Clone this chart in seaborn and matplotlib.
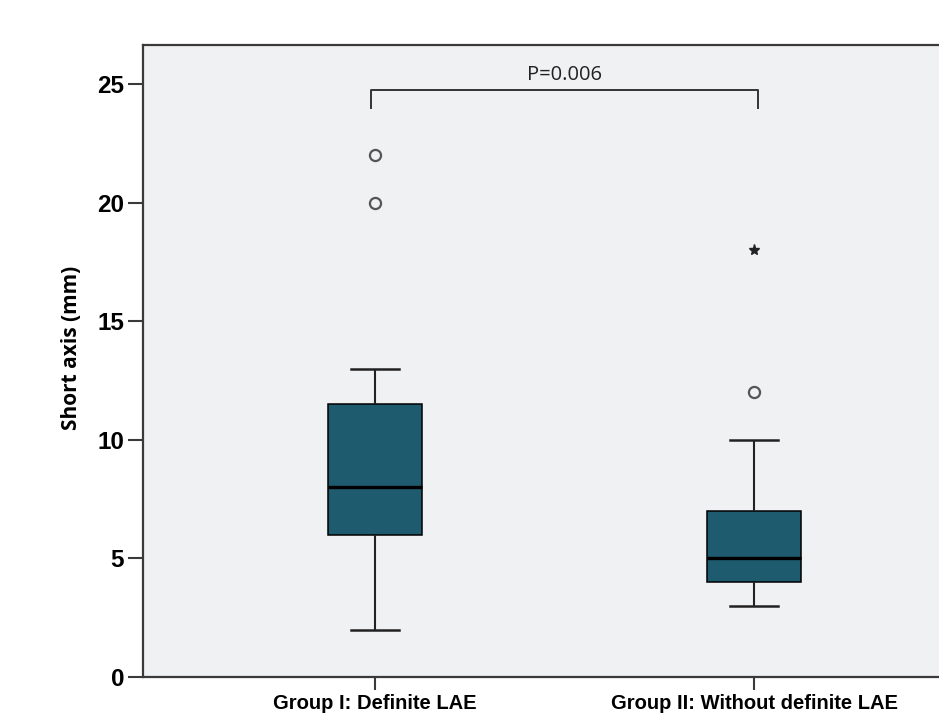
import numpy as np
import pandas as pd
import matplotlib
matplotlib.use('Agg')
import matplotlib.pyplot as plt
import seaborn as sns

# short axis values (mm) per group
groups = ['Group I: Definite LAE', 'Group II: Without definite LAE']
group1_vals = [2, 3, 4, 5, 6, 6, 7, 7, 8, 8, 9, 10, 10, 11, 12, 12, 13, 20, 22]
group2_vals = [3, 3, 3, 4, 4, 4, 4, 5, 5, 5, 5, 6, 6, 7, 7, 8, 10, 12, 18]
y_ticks = [0, 5, 10, 15, 20, 25]
p_text = 'P=0.006'

df = pd.DataFrame({
    'group': [groups[0]] * len(group1_vals) + [groups[1]] * len(group2_vals),
    'short_axis': group1_vals + group2_vals,
})

box_color = '#1f5b6f'
bg_color = '#f0f1f3'
spine_color = '#3a3a3a'

fig = plt.figure(figsize=(9.39, 7.23), dpi=100)
ax = fig.add_axes([143 / 939, 46 / 723, 796 / 939, 632 / 723])
ax.set_facecolor(bg_color)

sns.boxplot(data=df, x='group', y='short_axis', order=groups, ax=ax,
            color=box_color, saturation=1, width=0.25, whis=1.5,
            showfliers=False, linecolor='black', linewidth=1.1,
            medianprops={'linewidth': 2.4, 'color': 'black'},
            whiskerprops={'linewidth': 1.5, 'color': '#222222'},
            capprops={'linewidth': 1.8, 'color': '#222222'})

# SPSS style outliers: circles beyond 1.5 IQR, stars beyond 3 IQR
for i, vals in enumerate([group1_vals, group2_vals]):
    v = np.array(vals, dtype=float)
    q1, q3 = np.percentile(v, [25, 75])
    iqr = q3 - q1
    mild = v[((v > q3 + 1.5 * iqr) & (v <= q3 + 3 * iqr)) | ((v < q1 - 1.5 * iqr) & (v >= q1 - 3 * iqr))]
    extreme = v[(v > q3 + 3 * iqr) | (v < q1 - 3 * iqr)]
    ax.plot([i] * len(mild), mild, 'o', ms=8, mfc='none', mec='#555555', mew=1.6)
    ax.plot([i] * len(extreme), extreme, '*', ms=8, color='#222222')

# significance bracket
ax.plot([-0.01, -0.01, 1.01, 1.01], [24.0, 24.75, 24.75, 24.0], color='#333333', lw=1.4)
ax.text(0.5, 25.4, p_text, ha='center', va='center', fontsize=14.5,
        family=['Open Sans', 'DejaVu Sans'], color='#222222')

ax.set_xlim(-0.612, 1.488)
ax.set_ylim(0, 26.65)
ax.set_yticks(y_ticks)
ax.set_yticklabels([str(t) for t in y_ticks], fontsize=17.5, fontweight='bold',
                   family=['Liberation Sans', 'DejaVu Sans'])
ax.set_xticks(range(len(groups)))
ax.set_xticklabels(groups, fontsize=14.5, fontweight='bold',
                   family=['Liberation Sans', 'DejaVu Sans'])
ax.set_xlabel('')
ax.set_ylabel('Short axis (mm)', fontsize=15, fontweight='bold',
              family=['Open Sans', 'DejaVu Sans'])
ax.yaxis.set_label_coords(-0.077, 0.52)

ax.spines['right'].set_visible(False)
for s in ['left', 'bottom', 'top']:
    ax.spines[s].set_color(spine_color)
    ax.spines[s].set_linewidth(1.6)
ax.tick_params(axis='y', length=10.5, width=1.5, color=spine_color, pad=3)
ax.tick_params(axis='x', length=9, width=1.5, color=spine_color, pad=3)

fig.savefig('out.png', dpi=100)
